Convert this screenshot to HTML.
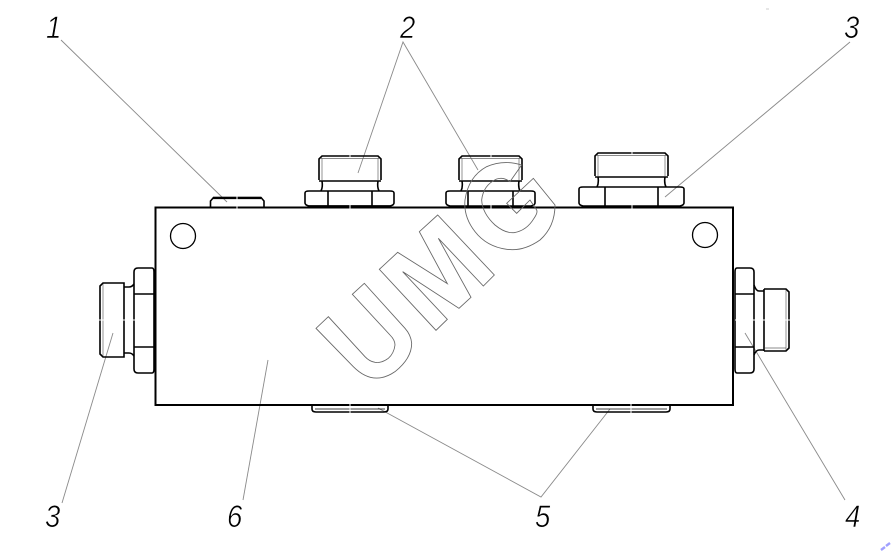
<!DOCTYPE html>
<html><head><meta charset="utf-8"><style>
html,body{margin:0;padding:0;background:#fff;width:891px;height:551px;overflow:hidden}
svg{display:block}
text{font-family:"Liberation Sans",sans-serif;font-style:italic;font-size:29px;fill:#000;stroke:#fff;stroke-width:.55px}
</style></head><body>
<svg width="891" height="551" viewBox="0 0 891 551" xmlns="http://www.w3.org/2000/svg">
<rect width="891" height="551" fill="#fff"/>
<!-- leaders -->
<g stroke="#8a8a8a" stroke-width=".9" fill="none">
<path d="M61 40L227 202"/>
<path d="M358 173L403 42L478 170"/>
<path d="M850 42L665 197"/>
<path d="M113 333L62 503"/>
<path d="M745 333L845 500"/>
<path d="M378 408L541 497L610 409"/>
<path d="M268 360L243 500"/>
</g>
<!-- body -->
<rect x="155.500" y="207.500" width="577.500" height="197.500" fill="none" stroke="#000" stroke-width="2"/>
<circle cx="183" cy="236" r="12.500" fill="none" stroke="#000" stroke-width="1.300"/>
<circle cx="705" cy="235" r="12.500" fill="none" stroke="#000" stroke-width="1.300"/>
<!-- top fittings -->
<g fill="none" stroke="#000" stroke-width="1.600">
<!-- small plug -->
<path d="M210.500 207V201L213.500 197.500H261L264 201V207"/>
<path stroke-width="2.200" d="M213 198H261"/>
<!-- fitting 2a -->
<path d="M319 180V159L322 156H378L381 159V180M319 181H381M322 181Q323 187 321 191M378 181Q377 187 379 191"/>
<path d="M305 193Q305 191 309 191H390Q394 191 394 193V203Q394 205 390 206H309Q305 205 305 203Z"/>
<path d="M328 191V206M372 191V206M309 206H390"/>
<path stroke-width=".7" stroke="#666" d="M322 158V180M378 158V180M320 158.500H380"/>
<!-- fitting 2b -->
<path d="M459 180V159L462 156H519L522 159V180M459 181H522M462 181Q463 187 461 191M519 181Q518 187 520 191"/>
<path d="M446 193Q446 191 450 191H531Q535 191 535 193V203Q535 205 531 206H450Q446 205 446 203Z"/>
<path d="M468 191V206M513 191V206"/>
<path stroke-width=".7" stroke="#666" d="M462 158V180M519 158V180M460 158.500H521"/>
<!-- fitting 3 -->
<path d="M595 176V156L598 153H665L668 156V176M595 177H668M598 177Q599 183 597 187M665 177Q664 183 666 187"/>
<path d="M579 189Q579 187 583 187H680Q684 187 684 189V203Q684 205 680 206H583Q579 205 579 203Z"/>
<path d="M605 187V206M658 187V206"/>
<path stroke-width=".7" stroke="#666" d="M598 155V176M665 155V176M596 155.500H667"/>
<!-- left fitting -->
<path d="M152 268H138Q134 268 134 272V369Q134 373 138 373H152Q154 373 154 369V272Q154 268 152 268Z"/>
<path d="M134 294H154M134 347H154"/>
<path d="M124 287H129Q132 287 134 284M124 353H129Q132 353 134 356"/>
<path d="M103 283H124V357H103L100 354V286Z"/>
<path stroke-width=".7" stroke="#666" d="M103 284V356"/>
<!-- right fitting -->
<path d="M737 268H750Q754 268 754 272V369Q754 373 750 373H737Q735 373 735 369V272Q735 268 737 268Z"/>
<path d="M735 294H754M735 347H754"/>
<path d="M754 285Q756 291 759 291H764M754 355Q756 350 759 350H764M764 289V351"/>
<path d="M764 289H786L789 292V348L786 351H764"/>
<path stroke-width=".7" stroke="#666" d="M786 290V350M765 348H786"/>
<!-- bottom plugs -->
<path d="M312 406V409Q312 412 316 412H384Q388 412 388 409V406"/>
<path stroke-width=".8" d="M315 409H385"/>
<path d="M593 406V409Q593 412 597 412H666Q670 412 670 409V406"/>
<path stroke-width=".8" d="M596 409H667"/>
</g>
<!-- center-line white breaks -->
<g stroke="#fff" stroke-width="1" fill="none">
<path d="M350 154V157M350 205V209M491 154V157M491 205V209M632 151V154M632 205V209M237 196V209"/>
<path d="M98 320H135M762 320H790M735 320H755"/>
<path d="M350 403V414M631 403V414"/>
</g>
<!-- watermark UMG -->
<g transform="translate(310 190) scale(.33333)" fill="none" stroke="#666" stroke-width="2.600">
<path d="M55 380L18 415L130 530Q190 590 255 545Q305 505 305 460Q303 435 285 415L163 280L127 313L240 435Q255 450 255 465Q252 490 235 505Q215 520 195 517Q178 514 165 500Z"/>
<path d="M263 187L208 238L378 421L412 388L278 245L447 355L483 322L385 145L520 288L553 255L383 75L328 125L412 281Z"/>
<path d="M635 -75L600 -25Q580 -40 560 -33Q520 -15 515 30Q517 70 555 105Q585 130 612 128Q650 122 672 85Q684 68 680 60L660 30L620 70L590 40L670 -35L735 45Q735 110 690 150Q640 185 590 178Q530 170 495 125Q460 80 465 30Q475 -40 530 -70Q580 -92 635 -75Z"/>
</g>
<!-- labels -->
<g>
<text transform="translate(46 38) scale(.95 1.08)">1</text>
<text transform="translate(400 38) scale(.95 1.08)">2</text>
<text transform="translate(844 38) scale(.95 1.08)">3</text>
<text transform="translate(45 527) scale(.95 1.08)">3</text>
<text transform="translate(227 527) scale(.95 1.08)">6</text>
<text transform="translate(535 527) scale(.95 1.08)">5</text>
<text transform="translate(845 527) scale(.95 1.08)">4</text>
</g>
<!-- specks -->
<path d="M881 550L885 547M886 546L890 543" stroke="#a0a0ff" stroke-width="2.400" fill="none"/>
<path d="M766 9H769" stroke="#ccc" stroke-width="1"/>
</svg>
</body></html>
